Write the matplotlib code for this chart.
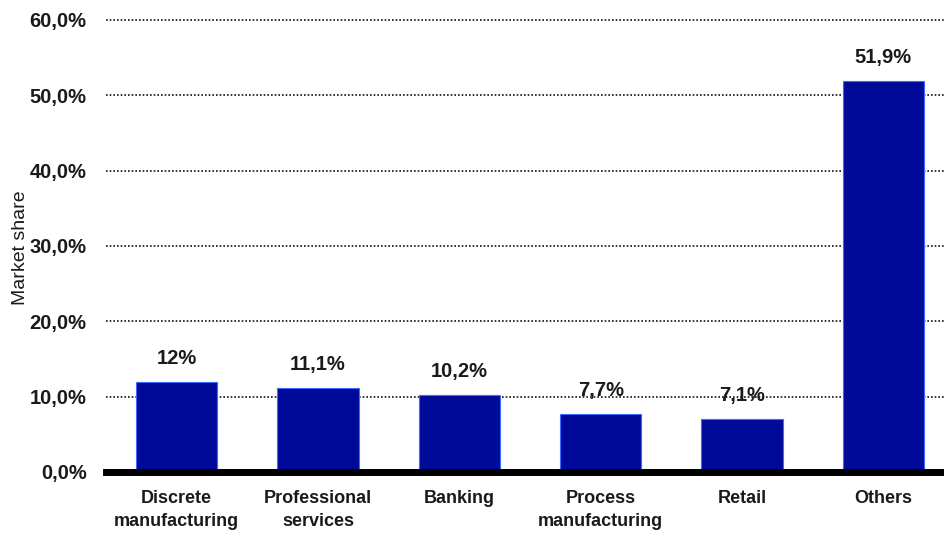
import matplotlib
matplotlib.use("Agg")
import matplotlib.pyplot as plt

categories = ["Discrete\nmanufacturing", "Professional\nservices", "Banking",
              "Process\nmanufacturing", "Retail", "Others"]
shares = [12.0, 11.1, 10.2, 7.7, 7.1, 51.9]
share_labels = ["12%", "11,1%", "10,2%", "7,7%", "7,1%", "51,9%"]
y_ticks = [0, 10, 20, 30, 40, 50, 60]
y_tick_labels = ["0,0%", "10,0%", "20,0%", "30,0%", "40,0%", "50,0%", "60,0%"]

plt.rcParams["font.family"] = ["Liberation Sans", "DejaVu Sans"]

fig = plt.figure(figsize=(9.45, 5.33), dpi=100)
ax = fig.add_axes([106 / 945, 61 / 533, 848 / 945, 452 / 533])

x = range(len(categories))
ax.bar(x, shares, width=0.575, color="#000a99", edgecolor="#3a6cff",
       linewidth=0.8, zorder=2)

for xi, v, lab in zip(x, shares, share_labels):
    ax.annotate(lab, (xi, v), xytext=(0, 10), textcoords="offset points",
                ha="center", va="bottom", fontsize=14.5, fontweight="bold",
                color="#1a1a1a", zorder=0.5)

ax.set_xlim(-0.5, len(categories) - 0.5)
ax.set_ylim(0, 60)
ax.set_yticks(y_ticks)
ax.set_yticklabels(y_tick_labels, fontsize=14.5, fontweight="bold", color="#1a1a1a")
ax.set_xticks(list(x))
ax.set_xticklabels(categories, fontsize=13, fontweight="bold", color="#1a1a1a",
                   linespacing=1.45)
ax.tick_params(axis="both", length=0)
ax.tick_params(axis="y", pad=14)
ax.tick_params(axis="x", pad=13)

for t in y_ticks[1:]:
    ax.axhline(t, color="#111111", linewidth=1.2, linestyle=(0, (1, 1.2)),
               zorder=1, clip_on=False)

for s in ["top", "right", "left"]:
    ax.spines[s].set_visible(False)
ax.spines["bottom"].set_linewidth(5)
ax.spines["bottom"].set_color("black")
ax.spines["bottom"].set_zorder(3)

ax.set_ylabel("Market share", fontsize=14, color="#1a1a1a")
ax.yaxis.set_label_coords(-77 / 848, 0.496)

fig.savefig("out.png", dpi=100, facecolor="white")
